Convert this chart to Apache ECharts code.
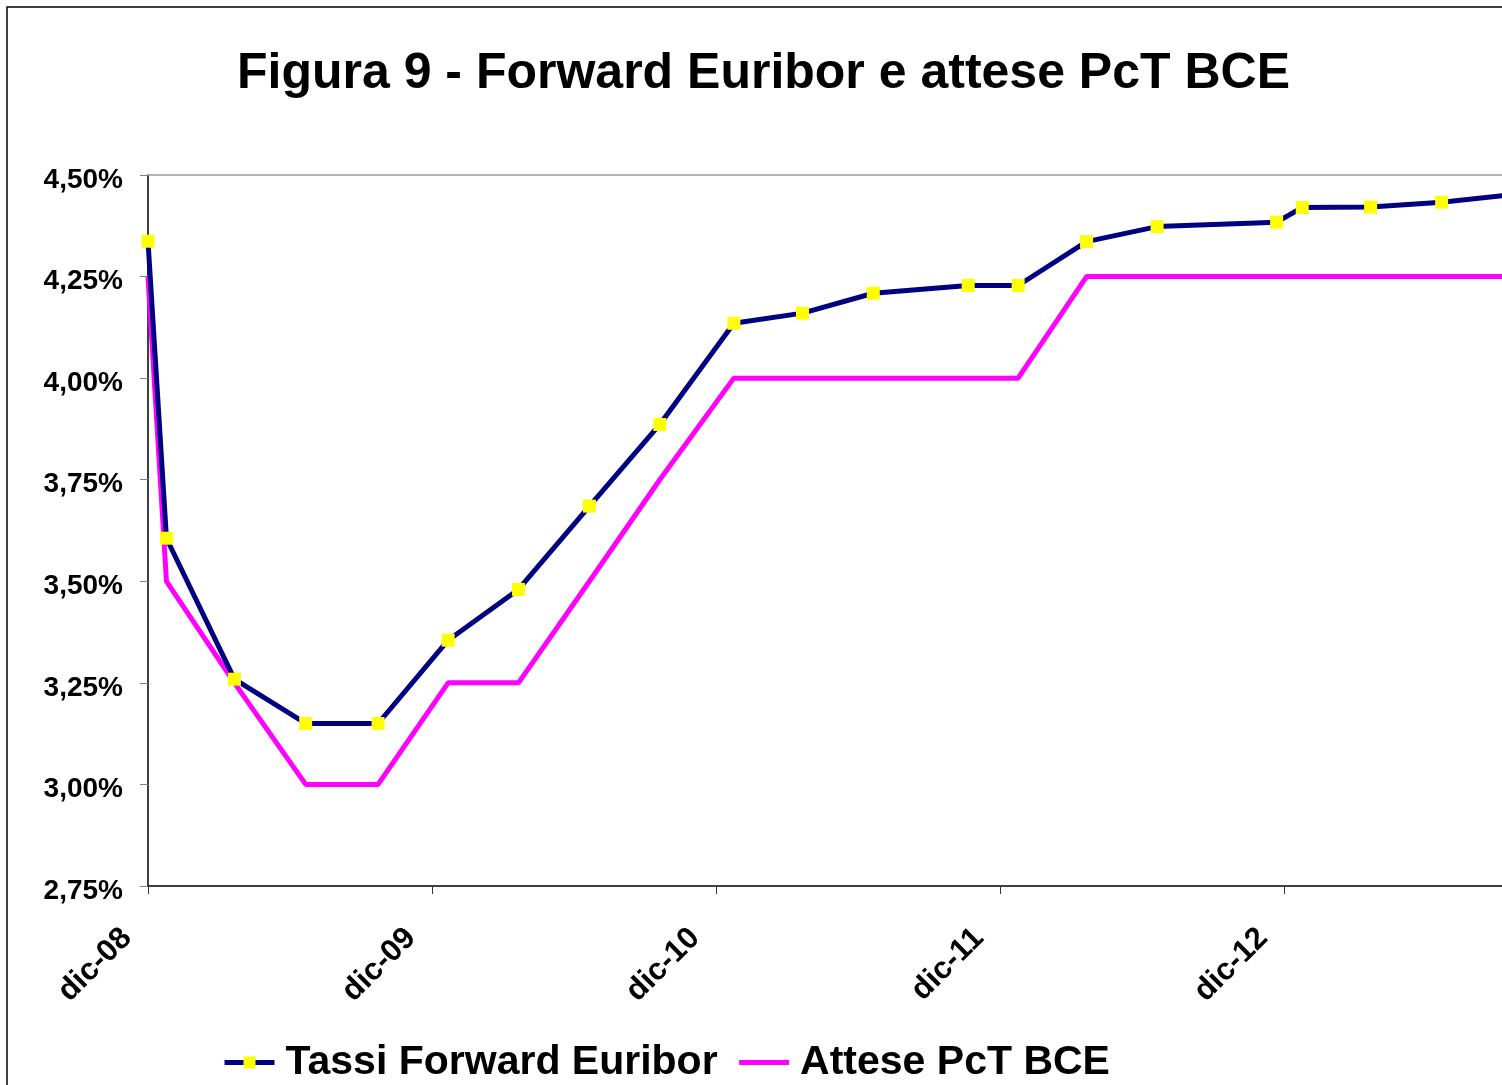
<!DOCTYPE html>
<html>
<head>
<meta charset="utf-8">
<title>Figura 9</title>
<script src="https://cdn.jsdelivr.net/npm/echarts@6/dist/echarts.min.js"></script>
<style>
	html, body {
		margin: 0;
		padding: 0;
		background: #fff;
	}
	#main {
		width: 1502px;
		height: 1085px;
	}
</style>
</head>
<body>
<div id="main"></div>
<script>
// mesi da dic-08
var months = [0, 0.78, 3.65, 6.66, 9.72, 12.68, 15.65, 18.65, 21.62, 24.75, 27.65, 30.64, 34.65, 36.76, 39.65, 42.63, 47.68, 48.76, 51.65, 54.65, 57.7];
var forwardEuribor = [4.337, 3.606, 3.259, 3.150, 3.150, 3.355, 3.480, 3.685, 3.886, 4.135, 4.160, 4.209, 4.228, 4.228, 4.336, 4.373, 4.384, 4.420, 4.421, 4.433, 4.452];
var attesePcT = [4.25, 3.50, 3.25, 3.00, 3.00, 3.25, 3.25, 3.50, 3.75, 4.00, 4.00, 4.00, 4.00, 4.00, 4.25, 4.25, 4.25, 4.25, 4.25, 4.25, 4.25];
var xTickLabels = ['dic-08', 'dic-09', 'dic-10', 'dic-11', 'dic-12'];
var xTickValues = [0, 12, 24, 36, 48];

var font = '"Liberation Sans", Arial, sans-serif';

function pairs(xs, ys) {
	return xs.map(function (x, i) { return [x, ys[i]]; });
}

var myChart = echarts.init(document.getElementById('main'));
var option = {
	animation: false,
	backgroundColor: '#fff',
	title: {
		text: 'Figura 9 - Forward Euribor e attese PcT BCE',
		left: 237,
		top: 49,
		padding: 0,
		textStyle: {
			fontFamily: font,
			fontSize: 50,
			fontWeight: 'bold',
			color: '#000'
		}
	},
	legend: {
		data: [{
			name: 'Tassi Forward Euribor',
			lineStyle: { color: '#000080', width: 5 }
		}, {
			name: 'Attese PcT BCE',
			lineStyle: { color: '#FF00FF', width: 5 },
			itemStyle: { opacity: 0 }
		}],
		left: 222,
		top: 1042,
		padding: 0,
		itemWidth: 50,
		itemHeight: 15,
		itemGap: 19,
		textStyle: {
			fontFamily: font,
			fontSize: 41,
			fontWeight: 'bold',
			color: '#000',
			padding: [0, 0, 0, 6]
		}
	},
	grid: {
		left: 148,
		right: 0,
		top: 175,
		bottom: 199
	},
	xAxis: [{
		type: 'value',
		min: 0,
		max: 57.2,
		interval: 12,
		splitLine: { show: false },
		axisLine: { lineStyle: { color: '#000', width: 1.5 } },
		axisTick: {
			customValues: xTickValues,
			length: 8,
			lineStyle: { color: '#333' }
		},
		axisLabel: {
			customValues: xTickValues,
			rotate: 45,
			margin: 26,
			padding: [0, 30, 0, 0],
			fontFamily: font,
			fontSize: 31,
			fontWeight: 'bold',
			color: '#000',
			formatter: function (v) {
				return xTickLabels[Math.round(v / 12)] || '';
			}
		}
	}, {
		// bordo superiore dell'area del grafico
		type: 'value',
		position: 'top',
		min: 0,
		max: 57.2,
		axisLine: { show: true, lineStyle: { color: '#999', width: 1.5 } },
		axisTick: { show: false },
		axisLabel: { show: false },
		splitLine: { show: false }
	}],
	yAxis: {
		type: 'value',
		min: 2.75,
		max: 4.5,
		interval: 0.25,
		splitLine: { show: false },
		axisLine: { show: true, lineStyle: { color: '#000', width: 1.5 } },
		axisTick: {
			show: true,
			length: 8,
			lineStyle: { color: '#808080' }
		},
		axisLabel: {
			margin: 25,
			verticalAlign: 'top',
			lineHeight: 10,
			fontFamily: font,
			fontSize: 28,
			fontWeight: 'bold',
			color: '#000',
			formatter: function (v) {
				return v.toFixed(2).replace('.', ',') + '%';
			}
		}
	},
	series: [{
		name: 'Attese PcT BCE',
		type: 'line',
		data: pairs(months, attesePcT),
		symbol: 'none',
		color: '#FF00FF',
		lineStyle: { color: '#FF00FF', width: 5 },
		z: 2
	}, {
		name: 'Tassi Forward Euribor',
		type: 'line',
		data: pairs(months, forwardEuribor),
		symbol: 'rect',
		symbolSize: 13,
		showAllSymbol: true,
		color: '#000080',
		lineStyle: { color: '#000080', width: 5 },
		itemStyle: { color: '#FFFF00', borderWidth: 0 },
		z: 3
	}],
	graphic: [{
		type: 'rect',
		shape: { x: 7, y: 7, width: 3000, height: 3000 },
		style: { fill: 'none', stroke: '#000', lineWidth: 1.5 },
		silent: true
	}]
};
myChart.setOption(option);
</script>
</body>
</html>
